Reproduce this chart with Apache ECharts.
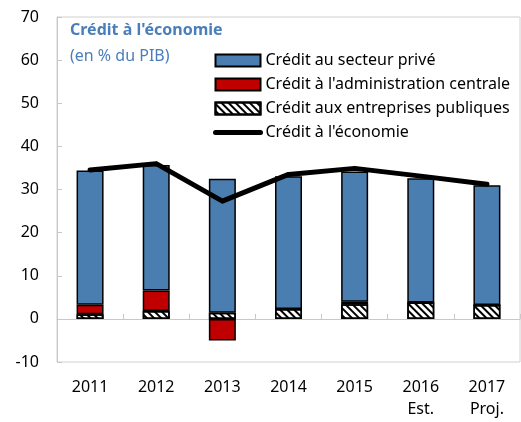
<!DOCTYPE html>
<html>
<head>
<meta charset="utf-8">
<script src="https://cdn.jsdelivr.net/npm/echarts@6/dist/echarts.min.js"></script>
<style>html,body{margin:0;padding:0;background:#fff}#c{width:521px;height:422px}</style>
</head>
<body>
<div id="c"></div>
<script>
const categories = ['2011', '2012', '2013', '2014', '2015', '2016\nEst.', '2017\nProj.'];
const entreprisesPubliques = [1.1, 1.8, 1.4, 2.3, 3.4, 3.8, 3.2];
const adminCentrale = [2.2, 4.8, -5.0, 0, 0.6, 0, 0];
const secteurPrive = [31.1, 29.1, 31.1, 30.8, 30.2, 28.8, 27.8];
const creditEconomie = [34.5, 36.0, 27.3, 33.5, 34.9, 33.1, 31.2];
const yTicks = { min: -10, max: 70, interval: 10 };

const FONT = '"Noto Sans", "Open Sans", sans-serif';
const chart = echarts.init(document.getElementById('c'), null, { renderer: 'canvas' });
chart.setOption({
  animation: false,
  textStyle: { fontFamily: FONT },
  title: [
    { text: "Crédit à l'économie", left: 65, top: 17, textStyle: { fontFamily: FONT, fontSize: 16, fontWeight: 'bold', color: '#4A7EBB' } },
    { text: '(en % du PIB)', left: 65, top: 43, textStyle: { fontFamily: FONT, fontSize: 16, fontWeight: 'normal', color: '#4A7EBB' } }
  ],
  legend: {
    orient: 'vertical', left: 208, top: 47,
    itemWidth: 45, itemHeight: 12, itemGap: 7,
    textStyle: { fontFamily: FONT, fontSize: 16, color: '#000', lineHeight: 17 },
    data: [
      { name: 'Crédit au secteur privé', icon: 'rect' },
      { name: "Crédit à l'administration centrale", icon: 'rect' },
      { name: 'Crédit aux entreprises publiques', icon: 'rect' },
      { name: "Crédit à l'économie", itemStyle: { opacity: 0 }, lineStyle: { width: 5, color: '#000', cap: 'round' } }
    ]
  },
  grid: { left: 57, right: 1, top: 17, bottom: 60, show: true, borderColor: '#d0d0d0', borderWidth: 1 },
  xAxis: [
    {
      type: 'category', data: categories, position: 'bottom',
      axisLine: { show: false, onZero: false }, axisTick: { show: false },
      axisLabel: { fontFamily: FONT, fontSize: 16, color: '#000', margin: 14, lineHeight: 22 }
    },
    {
      type: 'category', data: categories, position: 'bottom',
      axisLine: { show: true, onZero: true, lineStyle: { color: '#c8c8c8', width: 1 } },
      axisTick: { show: true, inside: true, length: 5, lineStyle: { color: '#c8c8c8' } },
      axisLabel: { show: false }
    }
  ],
  yAxis: {
    type: 'value', min: yTicks.min, max: yTicks.max, interval: yTicks.interval,
    axisLine: { show: true, lineStyle: { color: '#c8c8c8' } },
    axisTick: { show: true, inside: true, length: 5, lineStyle: { color: '#c8c8c8' } },
    splitLine: { show: false },
    axisLabel: { fontFamily: FONT, fontSize: 16, color: '#000', margin: 18 }
  },
  series: [
    {
      name: 'Crédit aux entreprises publiques', type: 'bar', stack: 'c', barWidth: 27, data: entreprisesPubliques,
      itemStyle: {
        color: '#fff', borderColor: '#000', borderWidth: 1.5,
        decal: { symbol: 'rect', symbolSize: 1, dashArrayX: [1, 0], dashArrayY: [2, 3], rotation: Math.PI / 4, color: '#000' }
      }
    },
    {
      name: "Crédit à l'administration centrale", type: 'bar', stack: 'c', barWidth: 27, data: adminCentrale,
      itemStyle: { color: '#C00000', borderColor: '#000', borderWidth: 1.5 }
    },
    {
      name: 'Crédit au secteur privé', type: 'bar', stack: 'c', barWidth: 27, data: secteurPrive,
      itemStyle: { color: '#4A7EB0', borderColor: '#000', borderWidth: 1.5 }
    },
    {
      name: "Crédit à l'économie", type: 'line', data: creditEconomie, symbol: 'none', showSymbol: false,
      lineStyle: { color: '#000', width: 5, cap: 'round', join: 'round' }, itemStyle: { color: '#000' }, z: 5
    }
  ]
});
</script>
</body>
</html>
